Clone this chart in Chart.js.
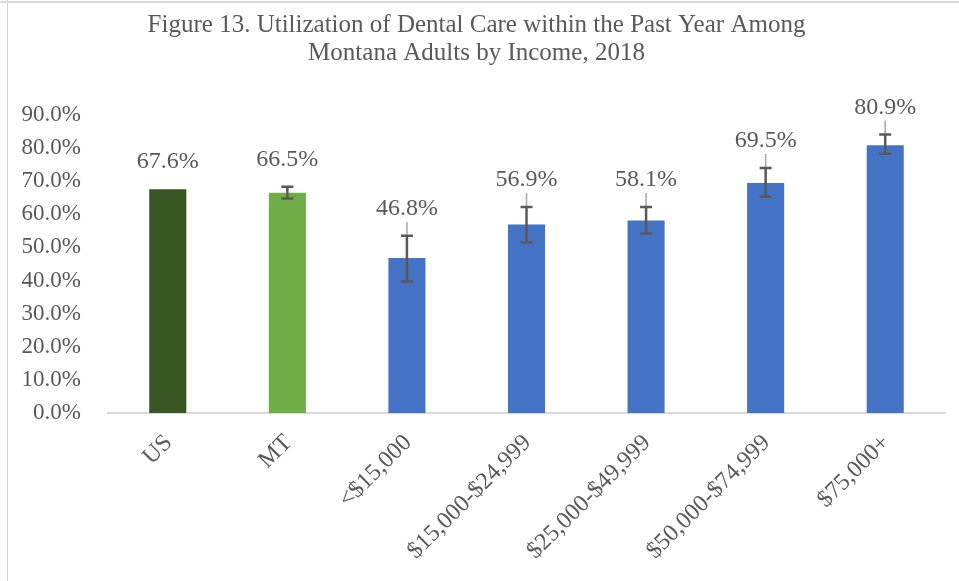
<!DOCTYPE html>
<html>
<head>
<meta charset="utf-8">
<script src="https://cdn.jsdelivr.net/npm/chart.js@4.4.1/dist/chart.umd.min.js"></script>
<style>
  html, body { margin: 0; padding: 0; background: #fff; }
  #wrap { position: relative; width: 959px; height: 581px; }
  #frameLeft { position: absolute; left: 7px; top: 0; width: 1px; height: 581px; background: #d4d4d4; }
  #frameTop { position: absolute; left: 0; top: 1px; width: 959px; height: 2px; background: #dcdcdc; }
</style>
</head>
<body>
<div id="wrap">
  <canvas id="chart" width="959" height="581"></canvas>
  <div id="frameLeft"></div>
  <div id="frameTop"></div>
</div>
<script>
// categories and values
const categories = ['US', 'MT', '<$15,000', '$15,000-$24,999', '$25,000-$49,999', '$50,000-$74,999', '$75,000+']
const rates = [67.6, 66.5, 46.8, 56.9, 58.1, 69.5, 80.9]
// 95% confidence interval ends (US has none)
const ciLow = [null, 64.8, 39.7, 51.5, 54.2, 65.3, 78.3]
const ciHigh = [null, 68.3, 53.5, 62.2, 62.2, 74.0, 84.1]
const barColors = ['#375623', '#70ad47', '#4472c4', '#4472c4', '#4472c4', '#4472c4', '#4472c4']
const yTicks = [0, 10, 20, 30, 40, 50, 60, 70, 80, 90]

const serif = '"Liberation Serif", "DejaVu Serif", serif'
const grey = '#595959'

// draws the error bars and the value labels above them
const errorBarsAndLabels = {
  id: 'errorBarsAndLabels',
  afterDatasetsDraw(chart) {
    const ctx = chart.ctx
    const y = chart.scales.y
    const meta = chart.getDatasetMeta(0)
    ctx.save()
    meta.data.forEach((bar, i) => {
      let top = bar.y
      let labelY = top - 27
      if (ciLow[i] != null) {
        const yl = y.getPixelForValue(ciLow[i])
        const yh = y.getPixelForValue(ciHigh[i])
        top = Math.min(top, yh)
        labelY = top - 27
        // excel leader lines on the income groups
        if (i >= 2) {
          ctx.strokeStyle = '#a6a6a6'
          ctx.lineWidth = 1.5
          ctx.beginPath()
          ctx.moveTo(bar.x, labelY + 13)
          ctx.lineTo(bar.x, yh)
          ctx.stroke()
        }
        ctx.strokeStyle = grey
        ctx.lineWidth = 2.5
        ctx.beginPath()
        ctx.moveTo(bar.x, yl)
        ctx.lineTo(bar.x, yh)
        ctx.moveTo(bar.x - 6, yl)
        ctx.lineTo(bar.x + 6, yl)
        ctx.moveTo(bar.x - 6, yh)
        ctx.lineTo(bar.x + 6, yh)
        ctx.stroke()
      }
      ctx.fillStyle = grey
      ctx.font = '24px ' + serif
      ctx.textAlign = 'center'
      ctx.textBaseline = 'middle'
      ctx.fillText(rates[i].toFixed(1) + '%', bar.x, labelY)
    })
    ctx.restore()
  }
}

new Chart(document.getElementById('chart'), {
  type: 'bar',
  plugins: [errorBarsAndLabels],
  data: {
    labels: categories,
    datasets: [
      {
        label: 'Dental care',
        data: rates,
        backgroundColor: barColors,
        borderWidth: 0,
        categoryPercentage: 1,
        barPercentage: 0.31
      }
    ]
  },
  options: {
    responsive: false,
    animation: false,
    layout: { padding: { left: 8, right: 14, top: 0, bottom: 0 } },
    plugins: {
      legend: { display: false },
      tooltip: { enabled: false },
      title: {
        display: true,
        text: ['Figure 13. Utilization of Dental Care within the Past Year Among', 'Montana Adults by Income, 2018'],
        color: grey,
        font: { family: serif, size: 25, weight: 'normal', lineHeight: 1.12 },
        padding: { top: 11, bottom: 48 }
      }
    },
    scales: {
      y: {
        min: 0,
        max: 90,
        afterBuildTicks: scale => { scale.ticks = yTicks.map(v => ({ value: v })) },
        afterFit: scale => { scale.width = 100 },
        grid: { display: false },
        border: { display: false },
        ticks: {
          color: grey,
          padding: 19,
          font: { family: serif, size: 23 },
          callback: v => v.toFixed(1) + '%'
        }
      },
      x: {
        afterFit: scale => { scale.height = 168 },
        grid: { display: false },
        border: { display: true, color: '#d9d9d9', width: 2 },
        ticks: {
          color: grey,
          padding: 8,
          labelOffset: 1,
          minRotation: 45,
          maxRotation: 45,
          font: { family: serif, size: 24 }
        }
      }
    }
  }
})
</script>
</body>
</html>
